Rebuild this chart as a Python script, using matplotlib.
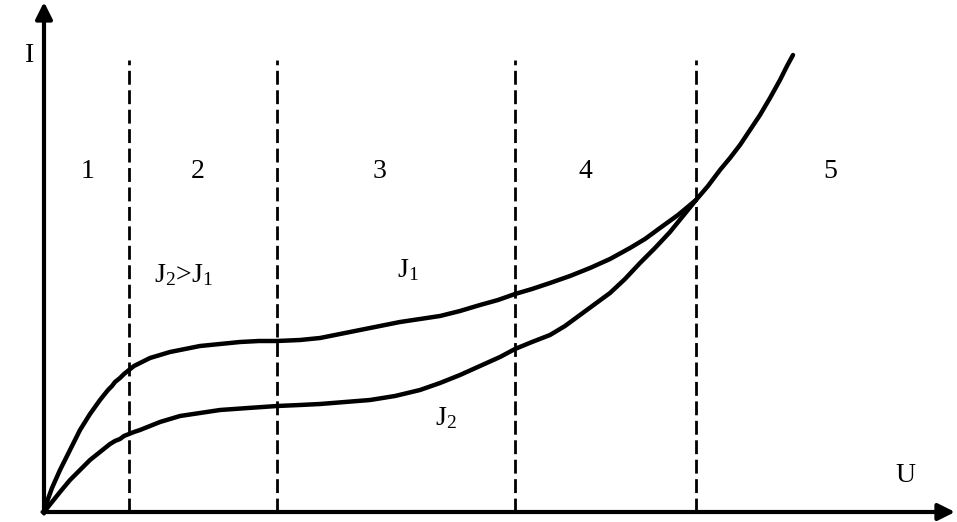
import matplotlib.pyplot as plt

# Reading the picture: x = U, y = I (arbitrary units, origin at axes corner)
j1_u = [0, 4, 8, 12, 16, 21, 26, 31, 36, 41, 46, 51, 56, 60, 64, 68, 71, 76, 80, 85, 90, 98, 106, 116, 126,
        141, 156, 176, 196, 215, 233, 256, 276, 296, 316, 336, 356, 376, 396, 416, 436, 454, 471,
        488, 506, 526, 546, 566, 586, 601, 616, 634, 652, 664, 676, 686, 696, 706, 716, 726, 736, 743, 749]
j1_i = [0, 13, 24, 33, 42, 52, 62, 72, 82, 90, 98, 105, 112, 117, 122, 126, 130, 134, 138, 142, 146, 150,
        154, 157, 160, 163, 166, 168, 170, 171, 171, 172, 174, 178, 182, 186, 190, 193, 196, 201,
        207, 212, 218, 223, 229, 236, 244, 253, 264, 273, 284, 297, 312, 326, 342, 354, 367, 382,
        397, 414, 432, 446, 457]

j2_u = [0, 4, 8, 12, 16, 21, 26, 31, 36, 41, 46, 51, 56, 61, 66, 71, 76, 80, 85, 90, 96, 106, 116, 126,
        136, 156, 176, 204, 233, 256, 276, 301, 326, 351, 376, 396, 416, 436, 456, 471, 488, 506,
        521, 536, 551, 566, 581, 596, 611, 626, 639, 652]
j2_i = [0, 5, 10, 15, 20, 26, 32, 37, 42, 47, 52, 56, 60, 64, 68, 71, 73, 76, 78, 80, 82, 86, 90, 93,
        96, 99, 102, 104, 106, 107, 108, 110, 112, 116, 122, 129, 137, 146, 155, 163, 170, 177,
        186, 197, 208, 219, 233, 249, 264, 280, 296, 312]

boundaries = [85, 233, 471, 652]
region_labels = ["1", "2", "3", "4", "5"]
region_x = [44, 154, 335, 541, 786]

plt.rcParams["font.family"] = "Liberation Serif"
plt.rcParams["mathtext.fontset"] = "custom"
plt.rcParams["mathtext.rm"] = "Liberation Serif"
plt.rcParams["mathtext.it"] = "Liberation Serif:italic"
plt.rcParams["mathtext.bf"] = "Liberation Serif:bold"
fs = 20

fig = plt.figure(figsize=(9.57, 5.22), dpi=100)
ax = fig.add_axes([0, 0, 1, 1])
ax.set_xlim(-44, 913)
ax.set_ylim(-10, 512)
ax.axis("off")

# axes with arrows
ax.annotate("", xy=(911, 0), xytext=(-1.5, 0),
            arrowprops=dict(arrowstyle="-|>", lw=3, color="k",
                            mutation_scale=25, shrinkA=0, shrinkB=0))
ax.annotate("", xy=(0, 510), xytext=(0, -1.5),
            arrowprops=dict(arrowstyle="-|>", lw=3, color="k",
                            mutation_scale=25, shrinkA=0, shrinkB=0))

for b in boundaries:
    ax.plot([b, b], [0, 452], color="k", lw=2, ls=(0, (5, 2)))

ax.plot(j1_u, j1_i, color="k", lw=3.2, solid_capstyle="round", solid_joinstyle="round")
ax.plot(j2_u, j2_i, color="k", lw=3.2, solid_capstyle="round", solid_joinstyle="round")

for lab, x in zip(region_labels, region_x):
    ax.text(x, 340, lab, fontsize=fs, ha="center", va="center")

ax.text(-14, 457, "I", fontsize=fs, ha="center", va="center")
ax.text(861, 37, "U", fontsize=fs, ha="center", va="center")
ax.text(139, 237, r"J$_\mathrm{2}$>J$_\mathrm{1}$", fontsize=fs, ha="center", va="center")
ax.text(364, 242, r"J$_\mathrm{1}$", fontsize=fs, ha="center", va="center")
ax.text(402, 94, r"J$_\mathrm{2}$", fontsize=fs, ha="center", va="center")

fig.savefig("out.png", dpi=100)
